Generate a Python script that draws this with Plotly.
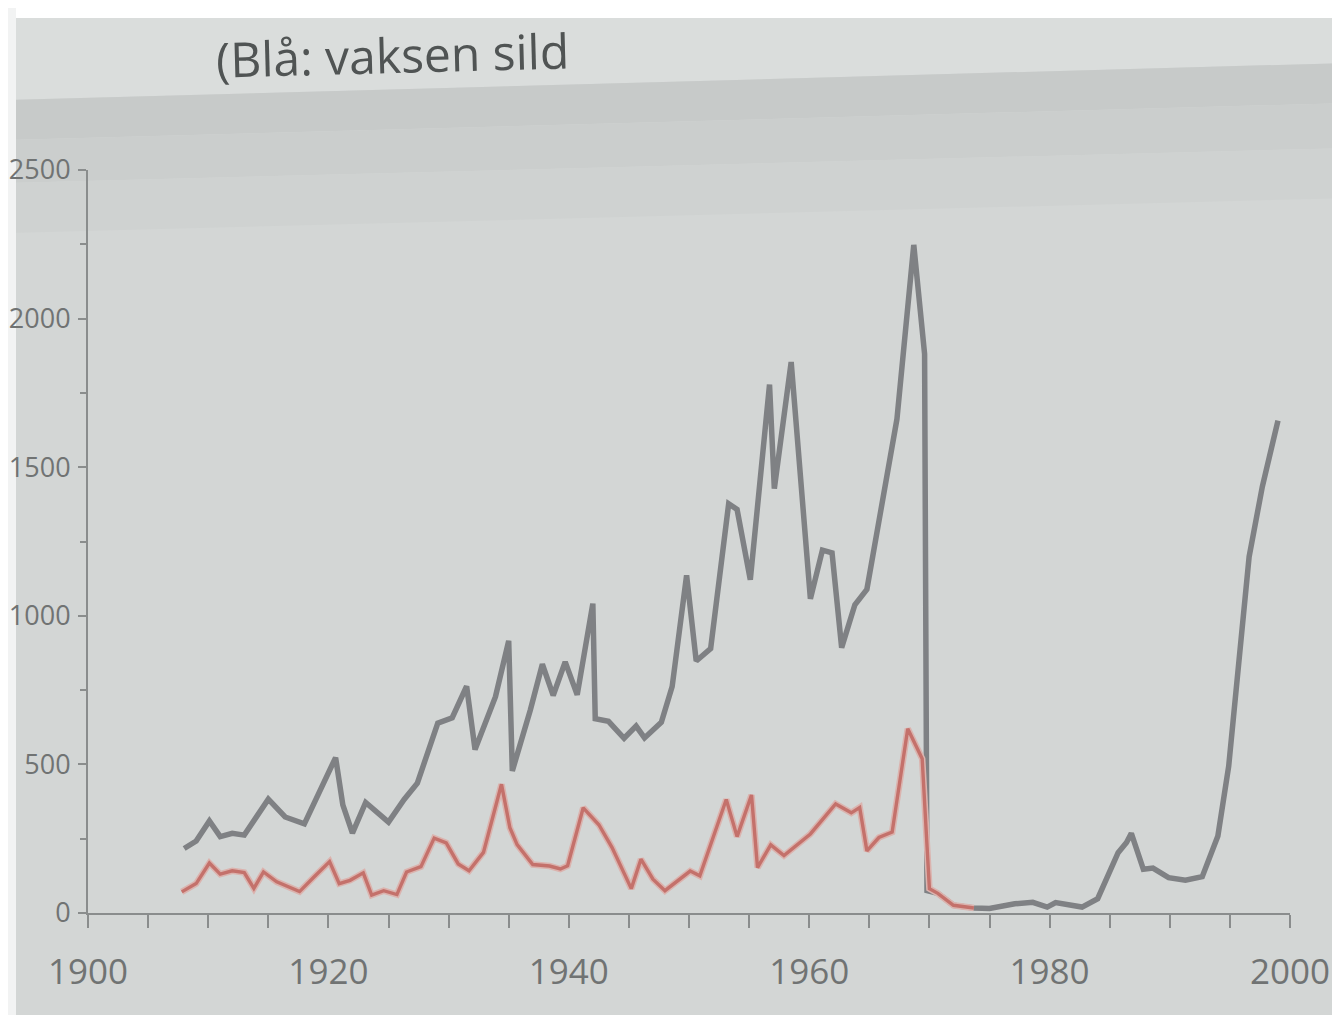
import plotly.graph_objects as go

# ---- data (catch, thousand tonnes) ----
gray_years = [1908.0, 1909.0, 1910.1, 1911.0, 1912.0, 1913.0, 1915.0, 1916.4, 1918.0, 1920.6,
              1921.2, 1922.0, 1923.1, 1925.0, 1926.3, 1927.4, 1929.1, 1930.3, 1931.5, 1932.2,
              1933.9, 1935.0, 1935.3, 1936.8, 1937.8, 1938.7, 1939.7, 1940.7, 1942.0, 1942.2,
              1943.3, 1944.6, 1945.6, 1946.3, 1947.7, 1948.6, 1949.8, 1950.6, 1951.8, 1953.3,
              1954.0, 1955.1, 1956.7, 1957.1, 1958.5, 1960.1, 1961.1, 1961.9, 1962.7, 1963.8,
              1964.8, 1967.3, 1968.7, 1969.6, 1969.8, 1970.7, 1972.0, 1973.7, 1975.0, 1977.1,
              1978.6, 1979.8, 1980.5, 1982.7, 1984.0, 1985.7, 1986.4, 1986.8, 1987.8, 1988.6,
              1989.9, 1991.3, 1992.7, 1994.0, 1994.9, 1995.8, 1996.6, 1997.7, 1999.0]
gray_values = [217, 242, 310, 257, 268, 262, 383, 323, 300, 523,
               364, 269, 372, 306, 382, 437, 639, 657, 763, 550,
               728, 916, 478, 683, 837, 732, 845, 734, 1041, 654,
               645, 588, 629, 589, 642, 762, 1136, 848, 890, 1377,
               1358, 1121, 1778, 1428, 1854, 1057, 1221, 1212, 893, 1037,
               1089, 1662, 2248, 1881, 75, 66, 26, 17, 15, 31,
               36, 20, 35, 20, 48, 203, 237, 268, 147, 151,
               119, 110, 122, 259, 494, 845, 1199, 1435, 1657]

red_years = [1907.8, 1909.0, 1910.1, 1911.0, 1912.0, 1913.0, 1913.8, 1914.6, 1915.7, 1917.6,
             1918.8, 1920.1, 1920.9, 1921.8, 1922.9, 1923.6, 1924.6, 1925.7, 1926.5, 1927.7,
             1928.8, 1929.8, 1930.8, 1931.7, 1932.9, 1934.4, 1935.1, 1935.7, 1937.0, 1938.4,
             1939.3, 1939.9, 1941.2, 1942.5, 1943.6, 1945.2, 1946.0, 1947.0, 1948.0, 1950.1,
             1950.9, 1953.1, 1954.0, 1955.2, 1955.7, 1956.8, 1957.9, 1960.1, 1962.2, 1963.5,
             1964.2, 1964.8, 1965.8, 1966.9, 1968.2, 1969.4, 1970.0, 1970.7, 1972.0, 1973.7]
red_values = [71, 99, 168, 131, 142, 136, 83, 138, 105, 72,
              121, 173, 99, 110, 135, 60, 75, 62, 138, 156,
              252, 236, 165, 142, 204, 433, 287, 230, 163, 158,
              148, 159, 354, 297, 220, 82, 181, 114, 75, 141,
              125, 382, 257, 397, 153, 229, 193, 266, 367, 337,
              355, 209, 254, 272, 620, 519, 82, 66, 26, 17]

x_tick_vals = [1900, 1920, 1940, 1960, 1980, 2000]
x_tick_text = ["1900", "1920", "1940", "1960", "1980", "2000"]
y_tick_vals = [0, 500, 1000, 1500, 2000, 2500]
y_tick_text = ["0", "500", "1000", "1500", "2000", "2500"]
title_text = "(Blå: vaksen sild"

# ---- layout geometry ----
W, H = 1340, 1015
ML, MR, MT, MB = 80, 58, 162, 110
PW, PH = W - ML - MR, H - MT - MB


def px(x):
    return (x - ML) / PW


def py(y):
    return (H - MB - y) / PH


def poly(points):
    return "M " + " L ".join(f"{px(a):.5f},{py(b):.5f}" for a, b in points) + " Z"


BG = "#d3d6d5"
AXIS = "#8a8d8d"
TICKFONT = dict(family="Open Sans, sans-serif", size=35, color="#707373")

fig = go.Figure()
fig.add_trace(go.Scatter(x=gray_years, y=gray_values, mode="lines",
                         line=dict(color="#7f8184", width=5.5), hoverinfo="skip"))
fig.add_trace(go.Scatter(x=red_years, y=red_values, mode="lines",
                         line=dict(color="#dbb3ae", width=6.5), hoverinfo="skip"))
fig.add_trace(go.Scatter(x=red_years, y=red_values, mode="lines",
                         line=dict(color="#c4716b", width=3.4), hoverinfo="skip"))

shapes = [
    dict(type="path", path=poly([(0, 10), (W, 10), (W, 55), (0, 92)]),
         xref="paper", yref="paper", fillcolor="#dadddc", line=dict(width=0), layer="below"),
    dict(type="path", path=poly([(0, 92), (W, 55), (W, 95), (0, 132)]),
         xref="paper", yref="paper", fillcolor="#c7cac9", line=dict(width=0), layer="below"),
    dict(type="path", path=poly([(0, 132), (W, 95), (W, 140), (0, 175)]),
         xref="paper", yref="paper", fillcolor="#cbcecd", line=dict(width=0), layer="below"),
    dict(type="path", path=poly([(0, 175), (W, 140), (W, 190), (0, 225)]),
         xref="paper", yref="paper", fillcolor="#cfd2d1", line=dict(width=0), layer="below"),
    dict(type="rect", x0=px(0), x1=px(W), y0=py(10), y1=py(0),
         xref="paper", yref="paper", fillcolor="#ffffff", line=dict(width=0), layer="below"),
    dict(type="rect", x0=px(0), x1=px(8), y0=py(H), y1=py(0),
         xref="paper", yref="paper", fillcolor="#f2f3f3", line=dict(width=0), layer="below"),
]

fig.update_layout(
    width=W, height=H,
    margin=dict(l=ML, r=MR, t=MT, b=MB),
    paper_bgcolor=BG, plot_bgcolor="rgba(0,0,0,0)",
    showlegend=False,
    shapes=shapes,
    annotations=[dict(text=title_text, x=px(205), y=py(46), xref="paper", yref="paper",
                      xanchor="left", yanchor="middle", showarrow=False, textangle=-1.5,
                      font=dict(family="Open Sans", size=48, color="#505454"))],
)

fig.update_xaxes(range=[1900, 2000], tickmode="array", tickvals=x_tick_vals, ticktext=x_tick_text,
                 showline=True, linecolor=AXIS, linewidth=2, showgrid=False, zeroline=False,
                 ticks="outside", ticklen=13, tickwidth=2, tickcolor=AXIS,
                 minor=dict(dtick=5, tick0=1900, ticks="outside", ticklen=13, tickwidth=2,
                            tickcolor=AXIS, showgrid=False),
                 tickfont=TICKFONT, ticklabelstandoff=14)
fig.update_yaxes(range=[0, 2500], tickmode="array", tickvals=y_tick_vals, ticktext=y_tick_text,
                 showline=True, linecolor=AXIS, linewidth=2, showgrid=False, zeroline=False,
                 ticks="outside", ticklen=8, tickwidth=2, tickcolor=AXIS,
                 minor=dict(dtick=250, tick0=0, ticks="outside", ticklen=6, tickwidth=2,
                            tickcolor=AXIS, showgrid=False),
                 tickfont=dict(TICKFONT, size=27), ticklabelstandoff=2, automargin=False)

fig.write_html("out.html")
